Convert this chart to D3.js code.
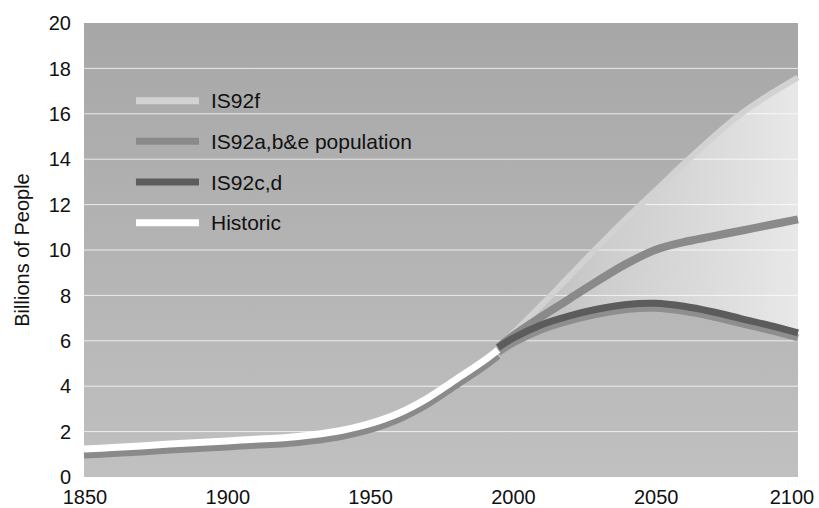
<!DOCTYPE html>
<html>
<head>
<meta charset="utf-8">
<script src="https://cdn.jsdelivr.net/npm/d3@7"></script>
<style>
  html, body { margin: 0; padding: 0; background: #ffffff; }
  svg { display: block; font-family: "Liberation Sans", Arial, sans-serif; }
</style>
</head>
<body>
<svg id="chart" width="819" height="508"></svg>
<script>
// ---- data ----
const yTicks = [0, 2, 4, 6, 8, 10, 12, 14, 16, 18, 20];
const xTicks = [1850, 1900, 1950, 2000, 2050, 2100];

const historicYears  = [1850, 1860, 1870, 1880, 1890, 1900, 1910, 1920, 1930, 1940, 1950, 1960, 1970, 1980, 1990, 1995];
const historicValues = [1.23, 1.30, 1.37, 1.45, 1.52, 1.59, 1.66, 1.73, 1.86, 2.05, 2.35, 2.80, 3.45, 4.28, 5.12, 5.60];

const projYears   = [1995, 2000, 2010, 2020, 2030, 2040, 2050, 2060, 2070, 2080, 2090, 2100];
const is92fValues = [5.70, 6.30, 7.55, 8.85, 10.15, 11.40, 12.60, 13.80, 14.95, 16.00, 16.85, 17.60];
const is92aValues = [5.70, 6.20, 7.05, 7.85, 8.65, 9.40, 10.00, 10.35, 10.60, 10.85, 11.10, 11.35];
const is92cValues = [5.70, 6.10, 6.70, 7.10, 7.40, 7.60, 7.65, 7.52, 7.28, 6.98, 6.68, 6.35];

const legendLabels = ["IS92f", "IS92a,b&e population", "IS92c,d", "Historic"];
const legendColors = ["#d2d2d2", "#8a8a8a", "#5c5c5c", "#ffffff"];

// ---- layout ----
const W = 819, H = 508;
const margin = { top: 23, right: 21, bottom: 31, left: 84 };
const iw = W - margin.left - margin.right;
const ih = H - margin.top - margin.bottom;

const svg = d3.select("#chart");
const defs = svg.append("defs");

const bg = defs.append("linearGradient").attr("id", "bgGrad")
  .attr("x1", 0).attr("y1", 0).attr("x2", 0).attr("y2", 1);
bg.append("stop").attr("offset", 0).attr("stop-color", "#a7a7a7");
bg.append("stop").attr("offset", 1).attr("stop-color", "#c0c0c0");

const x = d3.scaleLinear().domain([1850, 2100]).range([0, iw]);
const y = d3.scaleLinear().domain([0, 20]).range([ih, 0]);

const fillGrad = defs.append("linearGradient").attr("id", "fillGrad")
  .attr("gradientUnits", "userSpaceOnUse")
  .attr("x1", x(1995)).attr("y1", 0).attr("x2", x(2100)).attr("y2", 0);
fillGrad.append("stop").attr("offset", 0).attr("stop-color", "#e6e6e6").attr("stop-opacity", 0);
fillGrad.append("stop").attr("offset", 0.35).attr("stop-color", "#e6e6e6").attr("stop-opacity", 0.5);
fillGrad.append("stop").attr("offset", 1).attr("stop-color", "#e8e8e8").attr("stop-opacity", 1);

const g = svg.append("g").attr("transform", `translate(${margin.left},${margin.top})`);

g.append("rect").attr("width", iw).attr("height", ih).attr("fill", "url(#bgGrad)");

const curve = d3.curveCatmullRom.alpha(0.5);

// band between IS92f and IS92c,d
const proj = projYears.map((yr, i) => ({ yr, f: is92fValues[i], a: is92aValues[i], c: is92cValues[i] }));
g.append("path").datum(proj)
  .attr("fill", "url(#fillGrad)")
  .attr("d", d3.area().curve(curve)
    .x(d => x(d.yr)).y0(d => y(d.c)).y1(d => y(d.f)));

// gridlines
g.append("g").selectAll("line").data(yTicks.filter(v => v > 0 && v < 20)).join("line")
  .attr("x1", 0).attr("x2", iw)
  .attr("y1", d => y(d)).attr("y2", d => y(d))
  .attr("stroke", "#ffffff").attr("stroke-opacity", 0.75).attr("stroke-width", 1);

const line = (key) => d3.line().curve(curve).x(d => x(d.yr)).y(d => y(d[key]));

g.append("path").datum(proj).attr("fill", "none")
  .attr("stroke", legendColors[0]).attr("stroke-width", 6).attr("d", line("f"));
g.append("path").datum(proj).attr("fill", "none")
  .attr("stroke", legendColors[1]).attr("stroke-width", 8).attr("d", line("a"));
// IS92c,d with drop shadow
g.append("path").datum(proj).attr("fill", "none").attr("transform", "translate(0,5)")
  .attr("stroke", "#8e8e8e").attr("stroke-width", 7).attr("d", line("c"));
g.append("path").datum(proj).attr("fill", "none")
  .attr("stroke", legendColors[2]).attr("stroke-width", 7).attr("d", line("c"));

// historic with drop shadow
const hist = historicYears.map((yr, i) => ({ yr, v: historicValues[i] }));
g.append("path").datum(hist).attr("fill", "none").attr("transform", "translate(0,6)")
  .attr("stroke", "#8a8a8a").attr("stroke-width", 7).attr("d", line("v"));
g.append("path").datum(hist).attr("fill", "none")
  .attr("stroke", legendColors[3]).attr("stroke-width", 7).attr("d", line("v"));

// axes labels
g.append("g").selectAll("text").data(yTicks).join("text")
  .attr("x", -13).attr("y", d => y(d)).attr("dy", "0.36em")
  .attr("text-anchor", "end").attr("font-size", 20).attr("fill", "#111")
  .text(d => d);

g.append("g").selectAll("text").data(xTicks).join("text")
  .attr("x", d => x(d) + (d === 2100 ? -6 : 1)).attr("y", ih + 27)
  .attr("text-anchor", "middle").attr("font-size", 20).attr("fill", "#111")
  .text(d => d);

svg.append("text")
  .attr("transform", `translate(29,${margin.top + y(10)}) rotate(-90)`)
  .attr("text-anchor", "middle").attr("font-size", 20).attr("fill", "#111")
  .text("Billions of People");

// legend
const leg = g.append("g").attr("transform", `translate(${x(1868.2)},${y(16.58)})`);
legendLabels.forEach((lab, i) => {
  const row = leg.append("g").attr("transform", `translate(0,${i * 40.7})`);
  row.append("line").attr("x1", 0).attr("x2", 63).attr("y1", 0).attr("y2", 0)
    .attr("stroke", legendColors[i]).attr("stroke-width", 7);
  row.append("text").attr("x", 75).attr("y", 0).attr("dy", "0.36em")
    .attr("font-size", 21).attr("fill", "#111").text(lab);
});
</script>
</body>
</html>
